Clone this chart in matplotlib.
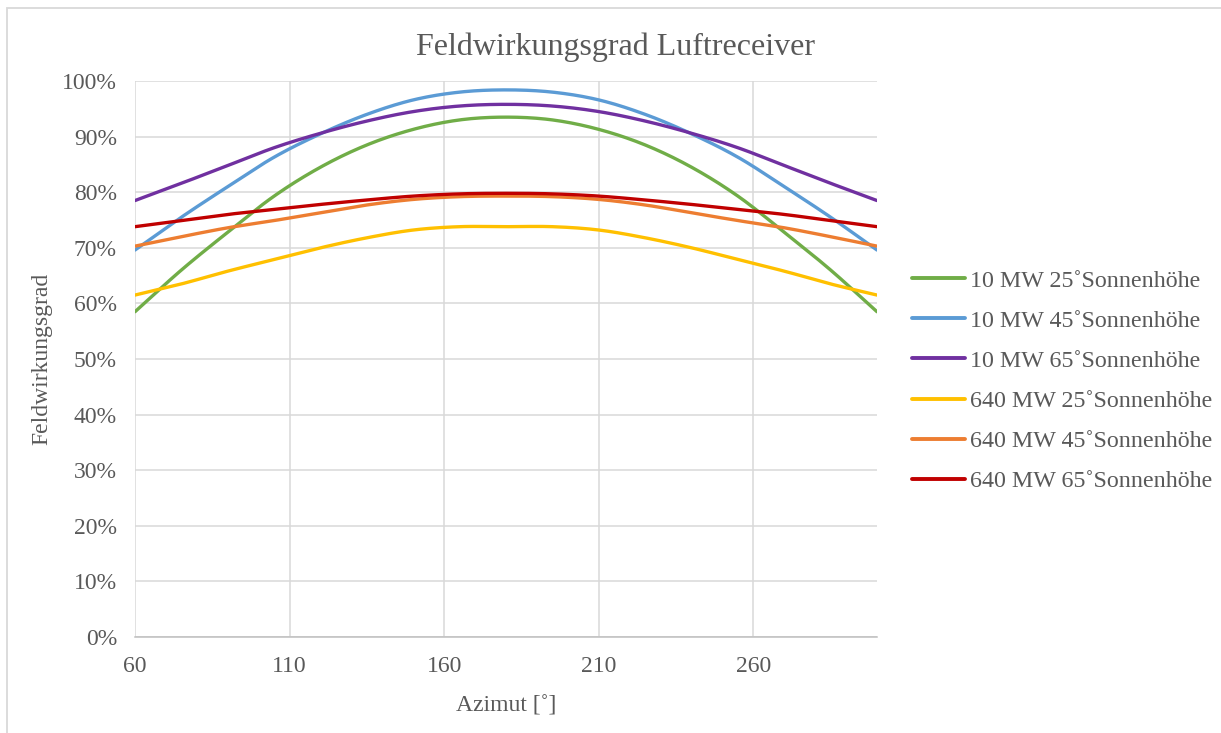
import numpy as np
import matplotlib
matplotlib.use('Agg')
import matplotlib.pyplot as plt
from matplotlib.patches import Rectangle

plt.rcParams['font.family'] = ['Liberation Serif', 'DejaVu Serif']

# Azimut in Grad, Feldwirkungsgrad in %
azimut = [60, 75, 90, 105, 120, 135, 150, 165, 180, 195, 210, 225, 240, 255, 270, 285, 300]

mw10_25 = [58.5, 66.0, 72.8, 79.3, 84.5, 88.5, 91.3, 93.0, 93.5, 93.0, 91.3, 88.5, 84.5, 79.3, 72.8, 66.0, 58.5]
mw10_45 = [69.6, 75.5, 81.0, 86.3, 90.5, 94.0, 96.6, 98.0, 98.4, 98.0, 96.6, 94.0, 90.5, 86.3, 81.0, 75.5, 69.6]
mw10_65 = [78.5, 81.6, 84.8, 88.0, 90.6, 92.8, 94.5, 95.5, 95.8, 95.5, 94.5, 92.8, 90.6, 88.0, 84.8, 81.6, 78.5]
mw640_25 = [61.5, 63.5, 65.8, 67.9, 70.0, 71.8, 73.2, 73.8, 73.8, 73.8, 73.2, 71.8, 70.0, 67.9, 65.8, 63.5, 61.5]
mw640_45 = [70.3, 72.0, 73.6, 74.9, 76.3, 77.7, 78.7, 79.2, 79.3, 79.2, 78.7, 77.7, 76.3, 74.9, 73.6, 72.0, 70.3]
mw640_65 = [73.8, 74.9, 76.0, 76.9, 77.8, 78.6, 79.3, 79.7, 79.8, 79.7, 79.3, 78.6, 77.8, 76.9, 76.0, 74.9, 73.8]

labels = ['10 MW 25˚Sonnenhöhe', '10 MW 45˚Sonnenhöhe', '10 MW 65˚Sonnenhöhe',
          '640 MW 25˚Sonnenhöhe', '640 MW 45˚Sonnenhöhe', '640 MW 65˚Sonnenhöhe']
colors = ['#70AD47', '#5B9BD5', '#7030A0', '#FFC000', '#ED7D31', '#C00000']
series = [mw10_25, mw10_45, mw10_65, mw640_25, mw640_45, mw640_65]


# geglaettete Linie (Catmull-Rom) wie in Excel
def smooth(x, y, n=20):
    x = np.asarray(x, float)
    y = np.asarray(y, float)
    px = np.concatenate([[2 * x[0] - x[1]], x, [2 * x[-1] - x[-2]]])
    py = np.concatenate([[2 * y[0] - y[1]], y, [2 * y[-1] - y[-2]]])
    t = np.linspace(0, 1, n, endpoint=False)
    xs, ys = [], []
    for i in range(1, len(px) - 2):
        for p, out in ((px, xs), (py, ys)):
            p0, p1, p2, p3 = p[i - 1], p[i], p[i + 1], p[i + 2]
            out.extend(0.5 * (2 * p1 + (-p0 + p2) * t
                              + (2 * p0 - 5 * p1 + 4 * p2 - p3) * t ** 2
                              + (-p0 + 3 * p1 - 3 * p2 + p3) * t ** 3))
    xs.append(x[-1])
    ys.append(y[-1])
    return np.array(xs), np.array(ys)


W, H = 1221, 733
fig = plt.figure(figsize=(W / 100, H / 100), dpi=100)
ax = fig.add_axes([135 / W, 1 - 637 / H, (877 - 135) / W, (637 - 81) / H])

txt = '#595959'
grid = '#D9D9D9'
fs = 17

for vals, lab, col in zip(series, labels, colors):
    sx, sy = smooth(azimut, vals)
    ax.plot(sx, sy / 100, color=col, lw=2.4, label=lab, solid_capstyle='round', zorder=3)

ax.set_xlim(60, 300)
ax.set_ylim(0, 1)
ax.set_xticks([60, 110, 160, 210, 260])
ax.set_yticks(np.arange(0, 1.01, 0.1))
ax.set_yticklabels([f'{int(round(v * 100))}%' for v in np.arange(0, 1.01, 0.1)])
ax.grid(True, color=grid, lw=1.1, zorder=0)
ax.tick_params(length=0, labelsize=fs, colors=txt)
ax.tick_params(axis='y', pad=13)
ax.tick_params(axis='x', pad=14)
for s in ['top', 'right', 'left']:
    ax.spines[s].set_visible(False)
ax.spines['bottom'].set_color('#BFBFBF')
ax.spines['bottom'].set_linewidth(1.1)

ax.set_xlabel('Azimut [˚]', fontsize=fs, color=txt, labelpad=13)
ax.set_ylabel('Feldwirkungsgrad', fontsize=fs, color=txt, labelpad=7)
fig.text(616 / W, 1 - 47 / H, 'Feldwirkungsgrad Luftreceiver', fontsize=23,
         color=txt, ha='center', va='center')

leg = ax.legend(loc='center left', bbox_to_anchor=(912 / W, 1 - 381 / H),
                bbox_transform=fig.transFigure, frameon=False, fontsize=17.3,
                handlelength=2.2, handletextpad=0.2, labelspacing=0.76,
                borderpad=0, borderaxespad=0)
for t in leg.get_texts():
    t.set_color(txt)
for l in leg.get_lines():
    l.set_linewidth(2.8)

# Rahmen des Diagrammbereichs
fig.patches.append(Rectangle((7 / W, -0.1), 1.2, 1 - 8.5 / H + 0.1, transform=fig.transFigure,
                             fill=False, ec=grid, lw=1.3))

fig.savefig('out.png', dpi=100)
